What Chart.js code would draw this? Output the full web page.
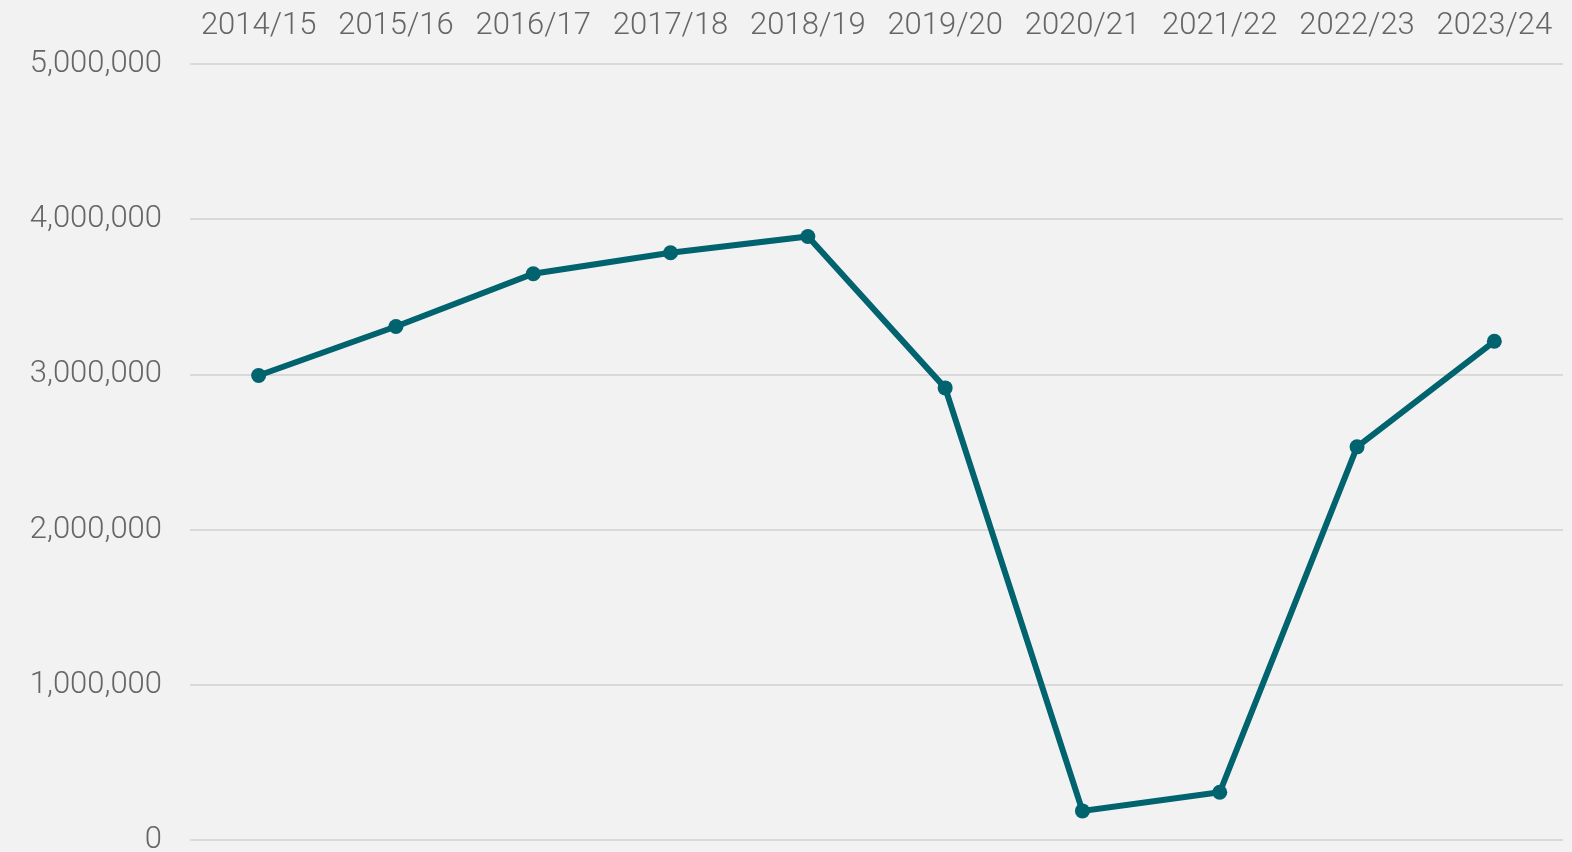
<!DOCTYPE html>
<html>
<head>
<meta charset="utf-8">
<script src="https://cdn.jsdelivr.net/npm/chart.js@4/dist/chart.umd.min.js"></script>
<style>
  html, body { margin: 0; padding: 0; background: #f2f2f2; overflow: hidden; }
  #wrap { width: 1572px; height: 852px; position: relative; overflow: hidden; }
  #c { position: absolute; left: 0; top: -17px; }
</style>
</head>
<body>
<div id="wrap"><canvas id="c" width="1572" height="904"></canvas></div>
<script>
const categories = ["2014/15", "2015/16", "2016/17", "2017/18", "2018/19", "2019/20", "2020/21", "2021/22", "2022/23", "2023/24"];
const seriesValues = [2995000, 3310000, 3650000, 3785000, 3890000, 2915000, 190000, 310000, 2535000, 3215000];
const yTicks = [0, 1000000, 2000000, 3000000, 4000000, 5000000];

const FONT = "'Roboto', 'Liberation Sans', sans-serif";
const lineColor = "#00636e";

new Chart(document.getElementById('c'), {
  type: 'line',
  data: {
    labels: categories,
    datasets: [{
      data: seriesValues,
      borderColor: lineColor,
      backgroundColor: lineColor,
      borderWidth: 6,
      pointRadius: 7.5,
      pointHoverRadius: 7.5,
      pointBackgroundColor: lineColor,
      pointBorderWidth: 0,
      tension: 0,
      fill: false
    }]
  },
  options: {
    responsive: false,
    animation: false,
    layout: { padding: { top: 6, right: 9, left: 0, bottom: 0 } },
    plugins: { legend: { display: false }, tooltip: { enabled: false } },
    scales: {
      x: {
        position: 'top',
        offset: true,
        grid: { display: false, drawTicks: false },
        border: { display: false },
        ticks: {
          autoSkip: false,
          maxRotation: 0,
          padding: 19,
          color: '#666666',
          font: { family: FONT, size: 31, weight: 300 }
        }
      },
      y: {
        min: 0,
        max: 5000000,
        afterFit: s => { s.width = 190; },
        afterBuildTicks: s => { s.ticks = yTicks.map(v => ({ value: v })); },
        grid: { color: '#d9d9d9', lineWidth: 2, drawTicks: false },
        border: { display: false },
        ticks: {
          padding: 28,
          color: '#666666',
          font: { family: FONT, size: 31, weight: 300 },
          callback: v => v.toLocaleString('en-US')
        }
      }
    }
  }
});
</script>
</body>
</html>
